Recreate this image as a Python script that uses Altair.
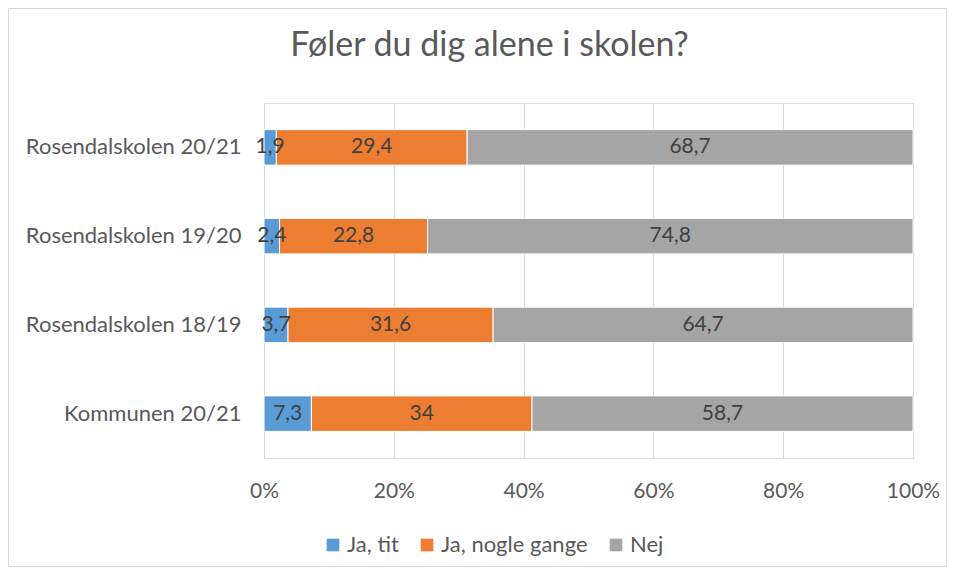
import altair as alt
import pandas as pd

schools = ["Rosendalskolen 20/21", "Rosendalskolen 19/20", "Rosendalskolen 18/19", "Kommunen 20/21"]
answers = ["Ja, tit", "Ja, nogle gange", "Nej"]
ja_tit = [1.9, 2.4, 3.7, 7.3]
ja_nogle = [29.4, 22.8, 31.6, 34]
nej = [68.7, 74.8, 64.7, 58.7]
colors = ["#5B9BD5", "#ED7D31", "#A5A5A5"]
x_ticks = [0, 0.2, 0.4, 0.6, 0.8, 1.0]

rows = []
for i, s in enumerate(schools):
    for j, (a, vals) in enumerate(zip(answers, [ja_tit, ja_nogle, nej])):
        rows.append({"school": s, "answer": a, "order": j, "value": vals[i]})
df = pd.DataFrame(rows)

FONT = "Lato"
TXT = "#595959"

base = alt.Chart(df).transform_stack(
    stack="value", groupby=["school"], as_=["v0", "v1"], offset="normalize",
    sort=[alt.SortField(field="order", order="ascending")]
).transform_calculate(
    mid="(datum.v0 + datum.v1) / 2",
    label="replace(toString(datum.value), '.', ',')"
)

x_scale = alt.Scale(domain=[0, 1], nice=False)
y_scale = alt.Scale(paddingInner=0.6, paddingOuter=0.3)

bars = base.mark_bar(stroke="white", strokeWidth=1).encode(
    x=alt.X("v0:Q", scale=x_scale, title=None,
            axis=alt.Axis(format="%", values=x_ticks, grid=True, gridColor="#D9D9D9",
                          ticks=False, domain=False, labelPadding=22, labelFontSize=21,
                          labelColor=TXT, labelFont=FONT, labelFlush=False)),
    x2="v1:Q",
    y=alt.Y("school:N", sort=schools, title=None, scale=y_scale,
            axis=alt.Axis(ticks=False, domain=False, labelPadding=23, labelFontSize=22,
                          labelColor=TXT, labelFont=FONT, labelLimit=300)),
    color=alt.Color("answer:N", sort=answers,
                    scale=alt.Scale(domain=answers, range=colors),
                    legend=alt.Legend(orient="none", legendX=58, legendY=431,
                                      direction="horizontal", symbolType="square",
                                      symbolSize=160, symbolStrokeWidth=0,
                                      labelFontSize=22, labelFont=FONT, labelColor=TXT,
                                      title=None, columnPadding=17, labelOffset=3, padding=0)),
)

text = base.mark_text(font=FONT, fontSize=21, color="#404040").encode(
    x=alt.X("mid:Q", scale=x_scale),
    y=alt.Y("school:N", sort=schools, scale=y_scale),
    text="label:N",
)

frame = alt.Chart(alt.Data(values=[{"a": 1}])).mark_rect(
    fillOpacity=0, stroke="#D9D9D9", strokeWidth=1
).encode(
    x=alt.value(-255.5), x2=alt.value(682.5), y=alt.value(-94.5), y2=alt.value(463.5)
)

chart = alt.layer(bars, text, frame).properties(
    width=649, height=355,
    title=alt.TitleParams("Føler du dig alene i skolen?", font=FONT, fontSize=34,
                          fontWeight="normal", color=TXT, anchor="middle", dx=-99,
                          frame="group", baseline="alphabetic", offset=-82),
    padding={"left": 256, "top": 95, "right": 34, "bottom": 109},
    autosize=alt.AutoSizeParams(type="none"),
).configure_view(stroke=None).configure(background="white")

chart.save("out.html", embed_options={"renderer": "svg", "actions": False})
